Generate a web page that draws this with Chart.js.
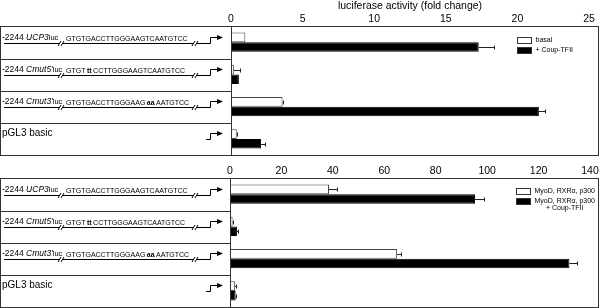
<!DOCTYPE html>
<html>
<head>
<meta charset="utf-8">
<script src="https://cdn.jsdelivr.net/npm/chart.js@4.4.0/dist/chart.umd.min.js"></script>
<style>
  html, body { margin: 0; padding: 0; background: #fff; }
  #wrap { position: relative; width: 600px; height: 308px; }
  .panel { position: absolute; left: 0; width: 600px; }
  canvas { display: block; }
</style>
</head>
<body>
<div id="wrap">
  <div class="panel" style="top:0;height:157px"><canvas id="topChart" width="600" height="157"></canvas></div>
  <div class="panel" style="top:157px;height:151px"><canvas id="bottomChart" width="600" height="151"></canvas></div>
</div>
<script>
const FONT = '"Liberation Sans", Arial, Helvetica, sans-serif';

const constructs = ['-2244 UCP3luc', "-2244 Cmut5'luc", "-2244 Cmut3'luc", 'pGL3 basic'];
// label pieces: plain, italic, small
const labelParts = [
  ['-2244 ', 'UCP3', 'luc'],
  ['-2244 ', "Cmut5'", 'luc'],
  ['-2244 ', "Cmut3'", 'luc'],
  ['pGL3 basic', '', '']
];
// sequence pieces alternate normal / bold (mutated bases)
const sequences = [
  ['GTGTGACCTTGGGAAGTCAATGTCC'],
  ['GTGT', 'tt', 'CCTTGGGAAGTCAATGTCC'],
  ['GTGTGACCTTGGGAAG', 'aa', 'AATGTCC'],
  null
];

// top panel
const topTicks = [0, 5, 10, 15, 20, 25];
const basal = [1.0, 0.2, 3.6, 0.4];
const basalErr = [0, 0.45, 0.05, 0.05];
const coup = [17.3, 0.55, 21.5, 2.1];
const coupErr = [1.1, 0, 0.4, 0.3];

// bottom panel
const bottomTicks = [0, 20, 40, 60, 80, 100, 120, 140];
const myo = [38.5, 1.0, 65, 2.0];
const myoErr = [3, 0.3, 1.5, 0.4];
const myoCoup = [95.3, 2.7, 132, 2.2];
const myoCoupErr = [3.5, 0.5, 3, 0.3];

function seg(ctx, x1, y1, x2, y2) {
  ctx.beginPath();
  ctx.moveTo(x1, y1);
  ctx.lineTo(x2, y2);
  ctx.stroke();
}

const errorBars = {
  id: 'errorBars',
  afterDatasetsDraw(chart) {
    const ctx = chart.ctx, xs = chart.scales.x;
    ctx.save();
    ctx.strokeStyle = '#222';
    ctx.lineWidth = 1;
    chart.data.datasets.forEach((ds, di) => {
      chart.getDatasetMeta(di).data.forEach((bar, i) => {
        const e = ds.errors[i];
        if (!e) return;
        const x1 = Math.round(xs.getPixelForValue(ds.data[i] + e)) + 0.5;
        const y = Math.round(bar.y) + 0.5;
        seg(ctx, bar.x, y, x1, y);
        seg(ctx, x1, y - 2, x1, y + 2);
      });
    });
    ctx.restore();
  }
};

function drawPieces(ctx, x, y, pieces, fonts, gaps) {
  pieces.forEach((p, k) => {
    if (!p) return;
    ctx.font = fonts[k % fonts.length];
    const g = gaps ? gaps[k % gaps.length] : 0;
    x += g;
    ctx.fillText(p, x, y);
    x += ctx.measureText(p).width + g;
  });
}

const constructPlugin = {
  id: 'constructs',
  afterDraw(chart) {
    const ctx = chart.ctx, a = chart.chartArea;
    const x0 = Math.round(chart.scales.x.getPixelForValue(0)) + 0.5;
    const top = Math.round(a.top) + 0.5, bottom = Math.round(a.bottom) + 0.5;
    const n = chart.data.labels.length, rowH = (bottom - top) / n;
    ctx.save();
    ctx.strokeStyle = '#333';
    ctx.fillStyle = '#000';
    ctx.lineWidth = 1;
    ctx.strokeRect(0.5, top, 598, bottom - top);
    seg(ctx, x0, top, x0, bottom);
    ctx.textBaseline = 'alphabetic';
    ctx.textAlign = 'left';
    for (let i = 0; i < n; i++) {
      const rt = top + i * rowH;
      if (i) seg(ctx, 0, Math.round(rt) + 0.5, x0, Math.round(rt) + 0.5);
      const ly = Math.round(rt) + 16.5;
      const sz = sequences[i] ? 8.5 : 10;
      drawPieces(ctx, 2, Math.round(rt) + 12.5, labelParts[i],
        [sz + 'px ' + FONT, 'italic ' + sz + 'px ' + FONT, '7.5px ' + FONT]);
      ctx.strokeStyle = '#000';
      if (sequences[i]) {
        drawPieces(ctx, 66, ly - 2.5, sequences[i],
          ['7px ' + FONT, 'bold 7px ' + FONT], [0, 1.5]);
        seg(ctx, 4, ly, 59, ly);
        seg(ctx, 63, ly, 193, ly);
        seg(ctx, 197, ly, 210.5, ly);
        [58, 192].forEach(bx => {
          seg(ctx, bx, ly + 2.5, bx + 3, ly - 2.5);
          seg(ctx, bx + 3, ly + 2.5, bx + 6, ly - 2.5);
        });
      } else {
        seg(ctx, 206, ly, 210.5, ly);
      }
      // promoter arrow
      seg(ctx, 210.5, ly, 210.5, ly - 6);
      seg(ctx, 210.5, ly - 6, 218, ly - 6);
      ctx.beginPath();
      ctx.moveTo(217, ly - 8.5);
      ctx.lineTo(223, ly - 6);
      ctx.lineTo(217, ly - 3.5);
      ctx.closePath();
      ctx.fill();
      ctx.strokeStyle = '#333';
    }
    ctx.restore();
  }
};

const boxLegend = {
  id: 'boxLegend',
  afterDraw(chart, args, opts) {
    const ctx = chart.ctx, a = chart.chartArea;
    const bx = Math.round(a.right) - opts.right + 0.5;
    const by = Math.round(a.top) + opts.top + 0.5;
    ctx.save();
    ctx.font = '7px ' + FONT;
    ctx.textBaseline = 'middle';
    ctx.lineWidth = 1;
    chart.data.datasets.forEach((ds, i) => {
      const y = by + i * 10;
      ctx.fillStyle = ds.backgroundColor;
      ctx.fillRect(bx, y, 14, 6);
      ctx.strokeStyle = '#333';
      ctx.strokeRect(bx, y, 14, 6);
      const lines = ds.label.split('\n');
      ctx.fillStyle = '#000';
      ctx.textAlign = 'left';
      ctx.fillText(lines[0], bx + 18, y + 3);
      const w = ctx.measureText(lines[0]).width;
      ctx.textAlign = 'center';
      for (let k = 1; k < lines.length; k++) {
        ctx.fillText(lines[k], bx + 18 + w / 2, y + 3 + 7 * k);
      }
    });
    ctx.restore();
  }
};

function makeChart(id, ticks, sets, title, scaleHeight, pad, legendPos) {
  const x = {
    position: 'top',
    min: ticks[0],
    max: ticks[ticks.length - 1],
    ticks: {
      stepSize: ticks[1] - ticks[0],
      color: '#000',
      font: { size: 10.5, family: FONT },
      padding: 1,
      maxRotation: 0
    },
    grid: { display: false, drawTicks: false },
    border: { display: false },
    afterFit(scale) { scale.height = scaleHeight; }
  };
  if (title) {
    x.title = {
      display: true,
      text: title,
      color: '#000',
      font: { size: 10.5, family: FONT },
      padding: { top: 0, bottom: 0 }
    };
  }
  return new Chart(document.getElementById(id), {
    type: 'bar',
    data: {
      labels: constructs,
      datasets: sets.map(s => ({
        label: s.label,
        data: s.data,
        errors: s.errors,
        backgroundColor: s.fill,
        borderColor: s.stroke,
        borderWidth: 1,
        categoryPercentage: 0.6,
        barPercentage: 1.0
      }))
    },
    options: {
      indexAxis: 'y',
      responsive: false,
      animation: false,
      layout: { padding: pad },
      scales: {
        x: x,
        y: { display: false, offset: true }
      },
      plugins: {
        legend: { display: false },
        tooltip: { enabled: false },
        boxLegend: legendPos
      }
    },
    plugins: [errorBars, constructPlugin, boxLegend]
  });
}

makeChart('topChart', topTicks, [
  { label: 'basal', data: basal, errors: basalErr, fill: '#fff', stroke: '#444' },
  { label: '+ Coup-TFII', data: coup, errors: coupErr, fill: '#000', stroke: '#000' }
], 'luciferase activity (fold change)', 26,
  { left: 231, right: 11, top: 0, bottom: 2 }, { right: 72, top: 11 });

makeChart('bottomChart', bottomTicks, [
  { label: 'MyoD, RXR\u03b1, p300', data: myo, errors: myoErr, fill: '#fff', stroke: '#444' },
  { label: 'MyoD, RXR\u03b1, p300\n+ Coup-TFII', data: myoCoup, errors: myoCoupErr, fill: '#000', stroke: '#000' }
], null, 21,
  { left: 230, right: 10, top: 0, bottom: 1 }, { right: 74, top: 10 });
</script>
</body>
</html>
